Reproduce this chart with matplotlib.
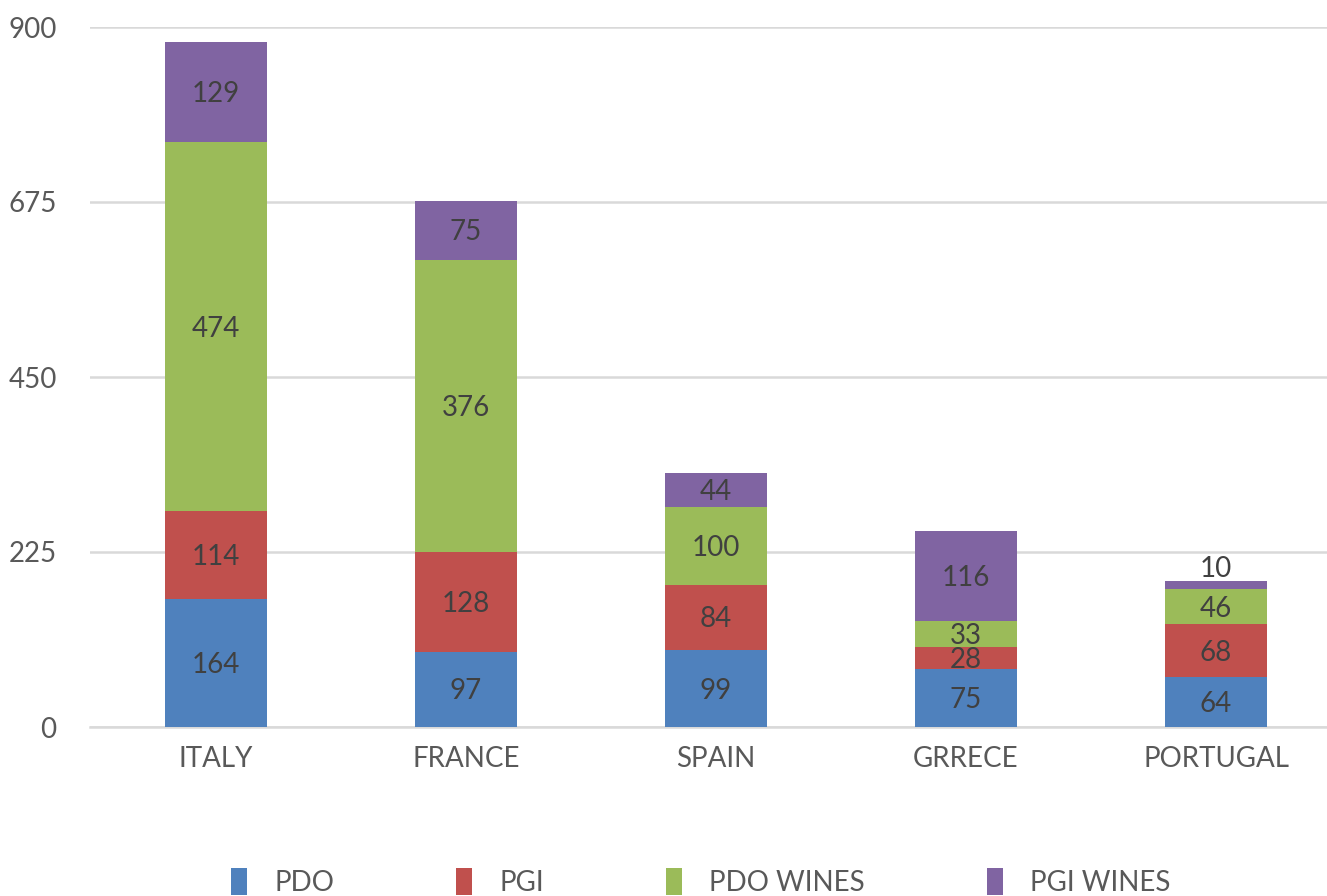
import matplotlib.pyplot as plt
from matplotlib.patches import Patch
import numpy as np

plt.rcParams['font.family'] = ['Lato', 'DejaVu Sans']

countries = ['ITALY', 'FRANCE', 'SPAIN', 'GRRECE', 'PORTUGAL']
series_names = ['PDO', 'PGI', 'PDO WINES', 'PGI WINES']
pdo = [164, 97, 99, 75, 64]
pgi = [114, 128, 84, 28, 68]
pdo_wines = [474, 376, 100, 33, 46]
pgi_wines = [129, 75, 44, 116, 10]
colors = ['#4F81BD', '#C0504D', '#9BBB59', '#8064A2']
yticks = [0, 225, 450, 675, 900]

W, H = 1327, 896
fig = plt.figure(figsize=(W / 100, H / 100), dpi=100)
ax = fig.add_axes([90 / W, (H - 727) / H, (W - 90) / W, 700 / H])

x = np.arange(len(countries))
barWidth = 0.41
bottom = np.zeros(len(countries))
for name, data, color in zip(series_names, [pdo, pgi, pdo_wines, pgi_wines], colors):
    data = np.array(data, dtype=float)
    ax.bar(x, data, barWidth, bottom=bottom, color=color, zorder=3)
    for xi, b, v in zip(x, bottom, data):
        if v < 20:
            # segment too thin, put the label above the bar
            ax.annotate('%d' % v, (xi, b + v), xytext=(0, -1), textcoords='offset points',
                        ha='center', va='bottom', fontsize=20, color='#404040', zorder=4)
        else:
            ax.annotate('%d' % v, (xi, b + v / 2), xytext=(0, -1.5), textcoords='offset points',
                        ha='center', va='center', fontsize=20, color='#404040', zorder=4)
    bottom += data

ax.set_xlim(-126 / 250, -126 / 250 + (W - 90) / 250)
ax.set_ylim(0, 900)
ax.set_yticks(yticks)
ax.set_yticklabels([str(t) for t in yticks])
ax.set_xticks(x)
ax.set_xticklabels(countries)
ax.grid(axis='y', color='#D9D9D9', linewidth=1.8, zorder=0)
for s in ['top', 'right', 'left']:
    ax.spines[s].set_visible(False)
ax.spines['bottom'].set_color('#D9D9D9')
ax.spines['bottom'].set_linewidth(1.8)
ax.tick_params(axis='both', length=0, labelsize=20, labelcolor='#595959')
ax.tick_params(axis='y', pad=24)
ax.tick_params(axis='x', pad=14)

handles = [Patch(facecolor=c, edgecolor='none') for c in colors]
fig.legend(handles, series_names, loc='center', bbox_to_anchor=(701 / W, 14 / H),
           ncol=4, frameon=False, fontsize=20, labelcolor='#595959',
           handlelength=0.55, handleheight=1.1, handletextpad=1.0, columnspacing=4.4)

fig.savefig('out.png', dpi=100)
